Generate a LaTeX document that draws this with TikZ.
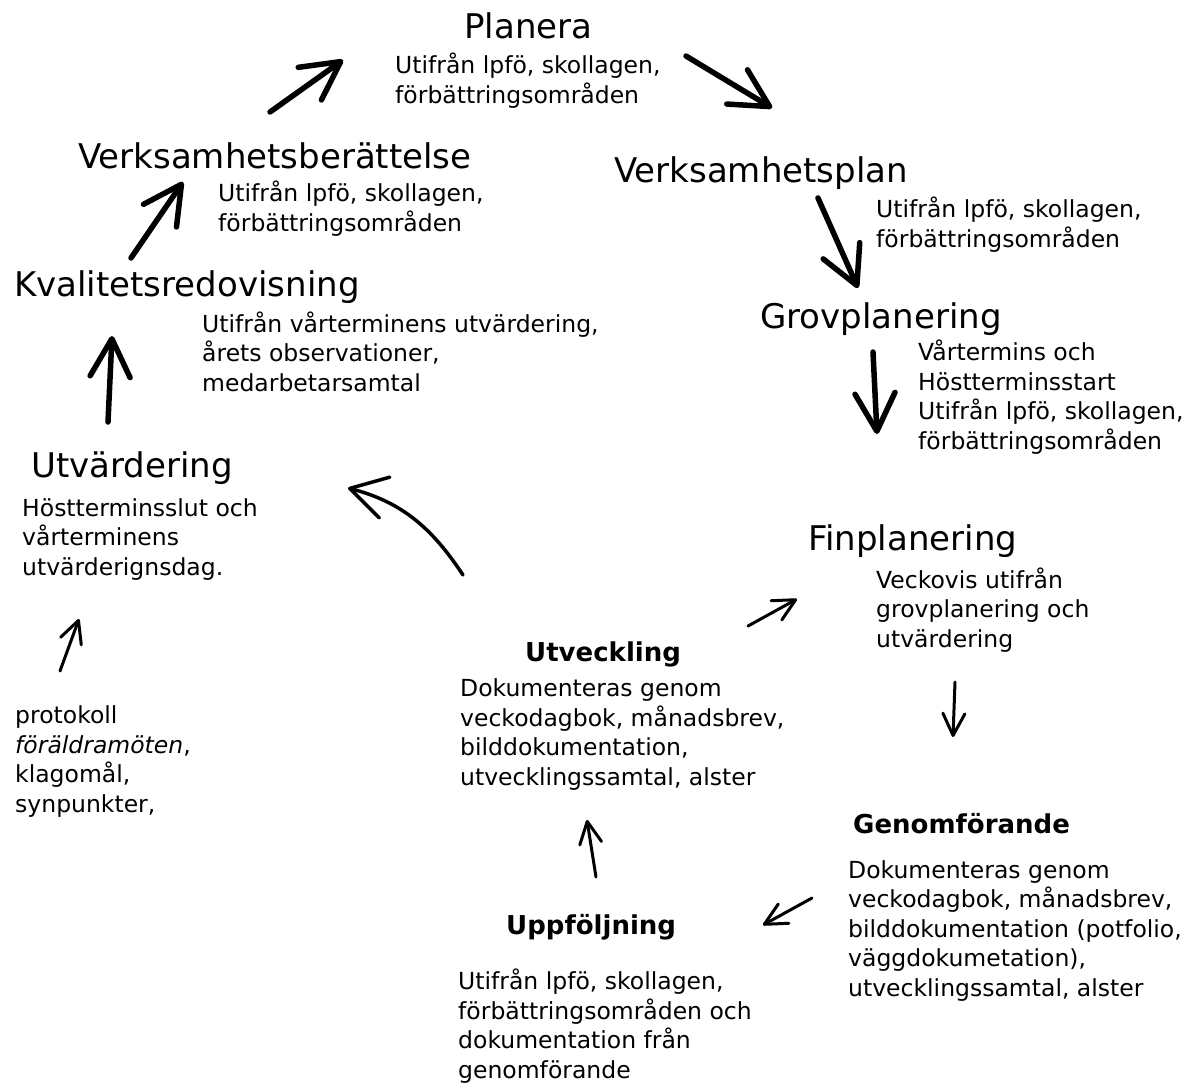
\documentclass[tikz,border=0pt]{standalone}
\usepackage{fontspec}
\setmainfont{DejaVu Sans}
\usetikzlibrary{arrows.meta}

\begin{document}
\begin{tikzpicture}[x=1pt,y=-1pt,
    rubrik/.style={anchor=base west,inner sep=0pt,font=\fontsize{34}{40}\selectfont},
    fas/.style={anchor=base west,inner sep=0pt,font=\fontsize{26}{31}\selectfont\bfseries},
    info/.style={anchor=base west,inner sep=0pt,align=left,font=\fontsize{23.5}{29.5}\selectfont},
    storpil/.style={line width=5.5pt,line cap=round,-{Straight Barb[length=38pt,width=40pt,round]}},
    litenpil/.style={line width=3pt,line cap=round,-{Straight Barb[length=22pt,width=22pt,round]}}]
            \useasboundingbox (0,0) rectangle (1197,1085);

            % rubriker
            \node[rubrik] (planera) at (464,38) {Planera};
            \node[rubrik] (vberatt) at (78,168) {Verksamhetsberättelse};
            \node[rubrik] (vplan) at (614,182) {Verksamhetsplan};
            \node[rubrik] (kvalitet) at (14,296) {Kvalitetsredovisning};
            \node[rubrik] (grov) at (760,328) {Grovplanering};
            \node[rubrik] (utvard) at (31,477) {Utvärdering};
            \node[rubrik] (fin) at (808,550) {Finplanering};
            \node[fas] (utveckl) at (525,661) {Utveckling};
            \node[fas] (genomf) at (853,833) {Genomförande};
            \node[fas] (uppf) at (506,934) {Uppföljning};

            % beskrivningar (y = sista radens baslinje)
            \node[info] (planeratxt) at (395,103) {Utifrån lpfö, skollagen,\\förbättringsområden};
            \node[info] (vberatttxt) at (218,231) {Utifrån lpfö, skollagen,\\förbättringsområden};
            \node[info] (vplantxt) at (876,247) {Utifrån lpfö, skollagen,\\förbättringsområden};
            \node[info] (kvalitettxt) at (202,391) {Utifrån vårterminens utvärdering,\\årets observationer,\\medarbetarsamtal};
            \node[info] (grovtxt) at (918,449) {Vårtermins och\\Höstterminsstart\\Utifrån lpfö, skollagen,\\förbättringsområden};
            \node[info] (utvardtxt) at (22,575) {Höstterminsslut och\\vårterminens\\utvärderignsdag.};
            \node[info] (protokoll) at (15,812) {protokoll\\\textit{föräldramöten},\\klagomål,\\synpunkter,};
            \node[info] (fintxt) at (876,647) {Veckovis utifrån\\grovplanering och\\utvärdering};
            \node[info] (utveckltxt) at (460,785) {Dokumenteras genom\\veckodagbok, månadsbrev,\\bilddokumentation,\\utvecklingssamtal, alster};
            \node[info] (genomftxt) at (848,996) {Dokumenteras genom\\veckodagbok, månadsbrev,\\bilddokumentation (potfolio,\\väggdokumetation),\\utvecklingssamtal, alster};
            \node[info] (uppftxt) at (458,1078) {Utifrån lpfö, skollagen,\\förbättringsområden och\\dokumentation från\\genomförande};

            % pilarnas ändar
            \coordinate (p1a) at (270,112);
            \coordinate (p1b) at (343,60);
            \coordinate (p2a) at (686,56);
            \coordinate (p2b) at (772,108);
            \coordinate (p3a) at (818,198);
            \coordinate (p3b) at (858,288);
            \coordinate (p4a) at (873,352);
            \coordinate (p4b) at (877,434);
            \coordinate (p5a) at (131,258);
            \coordinate (p5b) at (183,182);
            \coordinate (p6a) at (108,422);
            \coordinate (p6b) at (112,336);
            \coordinate (p7a) at (60,671);
            \coordinate (p7b) at (79,619);
            \coordinate (p8a) at (463,575);
            \coordinate (p8b) at (348,488);
            \coordinate (p9a) at (748,626);
            \coordinate (p9b) at (797,599);
            \coordinate (p10a) at (955,682);
            \coordinate (p10b) at (953,737);
            \coordinate (p11a) at (812,898);
            \coordinate (p11b) at (763,925);
            \coordinate (p12a) at (596,877);
            \coordinate (p12b) at (587,820);

            \draw[storpil] (p1a) -- (p1b);
            \draw[storpil] (p2a) -- (p2b);
            \draw[storpil] (p3a) -- (p3b);
            \draw[storpil] (p4a) -- (p4b);
            \draw[storpil] (p5a) -- (p5b);
            \draw[storpil] (p6a) -- (p6b);
            \draw[litenpil] (p7a) -- (p7b);
            \draw[litenpil,line width=3.5pt,-{Straight Barb[length=36pt,width=42pt,round]}] (p8a) .. controls (432,528) and (402,502) .. (p8b);
            \draw[litenpil] (p9a) -- (p9b);
            \draw[litenpil] (p10a) -- (p10b);
            \draw[litenpil] (p11a) -- (p11b);
            \draw[litenpil] (p12a) -- (p12b);
        \end{tikzpicture}
\end{document}
